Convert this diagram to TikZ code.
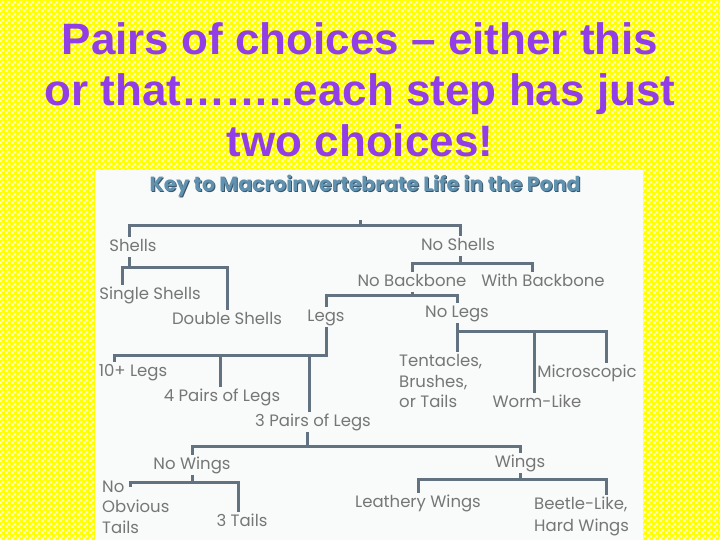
\documentclass[tikz,border=0pt]{standalone}
\usepackage{fontspec}
\setmainfont{Liberation Sans}
\newfontfamily\keyfont{Poppins}
\usetikzlibrary{patterns, positioning}

\definecolor{titlepurple}{RGB}{146,62,232}
\definecolor{checkyellow}{RGB}{255,255,0}
\definecolor{checklight}{RGB}{255,255,205}
\definecolor{keyback}{RGB}{249,251,251}
\definecolor{keyblue}{RGB}{96,146,176}
\definecolor{keyshade}{RGB}{62,86,104}
\definecolor{branchgray}{RGB}{98,114,128}
\definecolor{labelgray}{RGB}{118,118,118}

\pgfdeclarepatternformonly{yellowchecks}{\pgfpointorigin}{\pgfqpoint{6pt}{6pt}}{\pgfqpoint{6pt}{6pt}}{%
  \pgfpathrectangle{\pgfpointorigin}{\pgfqpoint{3pt}{3pt}}%
  \pgfpathrectangle{\pgfqpoint{3pt}{3pt}}{\pgfqpoint{3pt}{3pt}}%
  \pgfusepath{fill}}

\begin{document}
\begin{tikzpicture}[
        x = 1pt, y = -1pt,
        heading/.style = {text = titlepurple, font = \fontsize{44}{51}\selectfont\bfseries, align = center, inner sep = 0pt},
        keytitle/.style = {font = \keyfont\bfseries\fontsize{20.5}{22}\selectfont, inner sep = 0pt},
        choice/.style = {text = labelgray, font = \keyfont\fontsize{16.5}{21}\selectfont, text height = 12pt, text depth = 3.5pt, inner sep = 2pt},
        choicelines/.style = {text = labelgray, font = \keyfont\fontsize{16.5}{20.5}\selectfont, align = left, inner sep = 2pt, anchor = west},
        branch/.style = {draw = branchgray, line width = 3pt}
    ]
      \useasboundingbox (0,0) rectangle (720,540);
      \fill[checkyellow] (0,0) rectangle (720,540);
      \fill[pattern = yellowchecks, pattern color = checklight] (0,0) rectangle (720,540);
      \fill[keyback] (95,170) rectangle (643,541);

      \node[heading] (heading) at (360,90) {Pairs of choices – either this\\or that……..each step has just\\two choices!};

      \node[keytitle, text = keyshade] (keyshadow) at (366,187) {Key to Macroinvertebrate Life in the Pond};
      \node[keytitle, text = keyblue] (keytitle) at (365,186) {Key to Macroinvertebrate Life in the Pond};

      \coordinate (root) at (360,220);
      \node[choice] (shells) at (133,247) {Shells};
      \node[choice] (noshells) at (458,246) {No Shells};
      \node[choice] (single) at (150,295) {Single Shells};
      \node[choice] (double) at (227,320) {Double Shells};
      \node[choice] (nobackbone) at (412,282) {No Backbone};
      \node[choice] (withbackbone) at (543,282) {With Backbone};
      \node[choice] (legs) at (326,317) {Legs};
      \node[choice] (nolegs) at (457,313) {No Legs};
      \node[choice] (tenlegs) at (133,372) {10+ Legs};
      \node[choice] (fourpairs) at (222,397) {4 Pairs of Legs};
      \node[choice] (threepairs) at (313,422) {3 Pairs of Legs};
      \node[choicelines] (tentacles) at (397,381) {Tentacles,\\Brushes,\\or Tails};
      \node[choice] (wormlike) at (537,403) {Worm-Like};
      \node[choice] (microscopic) at (587,373) {Microscopic};
      \node[choice] (nowings) at (192,465) {No Wings};
      \node[choice] (wings) at (520,463) {Wings};
      \node[choicelines] (notails) at (100,507) {No\\Obvious\\Tails};
      \node[choice] (threetails) at (242,522) {3 Tails};
      \node[choice] (leathery) at (418,503) {Leathery Wings};
      \node[choicelines, text depth = 0pt] (beetle) at (532,514) {Beetle-Like,\\[1pt]Hard Wings};

      \path[branch]
        (root) -- ++(0,6) -| ([xshift=-4pt]shells.north)
        (root) -- ++(0,6) -| ([xshift=2pt]noshells.north)
        ([xshift=-4pt]shells.south) -- ++(0,11) -| ([xshift=-28pt]single.north)
        ([xshift=-4pt]shells.south) -- ++(0,11) -| (double.north)
        ([xshift=2pt]noshells.south) -- ++(0,8) -| (nobackbone.north)
        ([xshift=2pt]noshells.south) -- ++(0,8) -| ([xshift=-11pt]withbackbone.north)
        (nobackbone.south) -- ++(0,3.5) -| (legs.north)
        (nobackbone.south) -- ++(0,3.5) -| (nolegs.north)
        (legs.south) -- ++(0,28.5) -| ([xshift=-19pt]tenlegs.north)
        (legs.south) -- ++(0,28.5) -| ([xshift=-2pt]fourpairs.north)
        (legs.south) -- ++(0,28.5) -| ([xshift=-4pt]threepairs.north)
        (nolegs.south) -- (tentacles.north -| nolegs.south)
        (nolegs.south) -- ++(0,8.5) -| ([xshift=-3pt]wormlike.north)
        (nolegs.south) -- ++(0,8.5) -| ([xshift=19pt]microscopic.north)
        ([xshift=-6pt]threepairs.south) -- ++(0,15) -| (nowings.north)
        ([xshift=-6pt]threepairs.south) -- ++(0,15) -| (wings.north)
        (nowings.south) -- ++(0,8) -| ([xshift=30pt, yshift=-9pt]notails.north west)
        (nowings.south) -- ++(0,8) -| ([xshift=-4pt]threetails.north)
        (wings.south) -- ++(0,7) -| (leathery.north)
        (wings.south) -- ++(0,7) -| ([xshift=74pt]beetle.north west);
    \end{tikzpicture}
\end{document}
